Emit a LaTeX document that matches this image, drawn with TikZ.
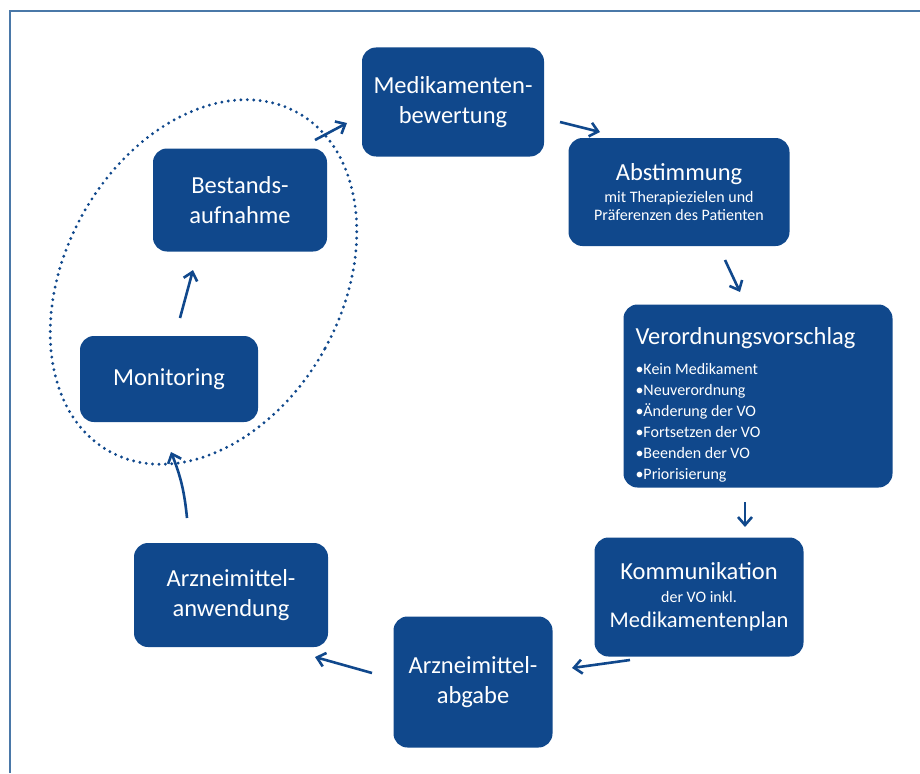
\documentclass[tikz,border=0pt]{standalone}
\usepackage{fontspec}
\setmainfont{Carlito}
\usetikzlibrary{arrows.meta, calc}
\definecolor{voblau}{RGB}{16,72,140}
\definecolor{rahmen}{RGB}{74,120,168}
\newcommand{\gross}{\fontsize{24.5}{30}\selectfont}
\newcommand{\klein}{\fontsize{16}{19}\selectfont}
\newcommand{\liste}{\fontsize{16}{20.7}\selectfont}

\begin{document}
\begin{tikzpicture}[x=1pt, y=-1pt,
    kasten/.style={draw=none, fill=voblau, rounded corners=14pt, text=white, align=center, inner sep=4pt, font=\gross},
    pfeil/.style={draw=voblau, line width=2.6pt, -{Straight Barb[length=8pt, width=14pt]}},
    punkte/.style={draw=voblau, line width=3.2pt, line cap=round, dash pattern=on 0pt off 6.4pt}]
  \useasboundingbox (0,0) rectangle (920,773);
  \draw[rahmen, line width=2pt] (10,773) -- (10,11) -- (920,11);

  \node[kasten, minimum width=182pt, minimum height=109pt] (medik) at (453,102) {Medikamenten-\\bewertung};
  \node[kasten, minimum width=221pt, minimum height=108pt] (abst) at (679,192)
      {Abstimmung\\[-8pt]{\klein mit Therapiezielen und}\\[-12pt]{\klein Präferenzen des Patienten}};
  \node[kasten, minimum width=269pt, minimum height=183pt, text width=245pt, align=flush left] (verord) at (758,396)
      {\rule{0pt}{34pt}Verordnungsvorschlag\\[0pt]{\liste •Kein Medikament}\\[-9pt]{\liste •Neuverordnung}\\[-9pt]{\liste •Änderung der VO}\\[-9pt]{\liste •Fortsetzen der VO}\\[-9pt]{\liste •Beenden der VO}\\[-9pt]{\liste •Priorisierung}};
  \node[kasten, minimum width=209pt, minimum height=119pt] (komm) at (699,597)
      {Kommunikation\\[-7pt]{\klein der VO inkl.}\\[-5pt]{\fontsize{22.5}{30}\selectfont Medikamentenplan}};
  \node[kasten, minimum width=159pt, minimum height=131pt] (abgabe) at (473,682) {Arzneimittel-\\abgabe};
  \node[kasten, minimum width=194pt, minimum height=104pt] (anwend) at (231,595) {Arzneimittel-\\anwendung};
  \node[kasten, minimum width=178pt, minimum height=86pt] (monit) at (169,379) {Monitoring};
  \node[kasten, minimum width=174pt, minimum height=103pt] (bestand) at (240,200) {Bestands-\\aufnahme};

  \draw[punkte, rotate around={-29:(203.5,282)}] (203.5,282) ellipse [x radius=138.5, y radius=193.7];

  \draw[pfeil] ($(bestand)+(75,-60)$) -- ($(medik)+(-106,21)$);
  \draw[pfeil] ($(medik)+(107,20)$) -- ($(abst)+(-79,-60)$);
  \draw[pfeil] ($(abst)+(46,68)$) -- ($(verord)+(-18,-104)$);
  \draw[pfeil] ($(verord)+(-13,106)$) -- ($(komm)+(46,-70)$);
  \draw[pfeil] ($(komm)+(-69,63)$) -- ($(abgabe)+(99,-14)$);
  \draw[pfeil] ($(abgabe)+(-101,-9)$) -- ($(anwend)+(84,62)$);
  \draw[pfeil] ($(anwend)+(-44,-77)$) to[bend right=8] ($(monit)+(2,73)$);
  \draw[pfeil] ($(monit)+(11,-61)$) -- ($(bestand)+(-47,70)$);
\end{tikzpicture}
\end{document}
